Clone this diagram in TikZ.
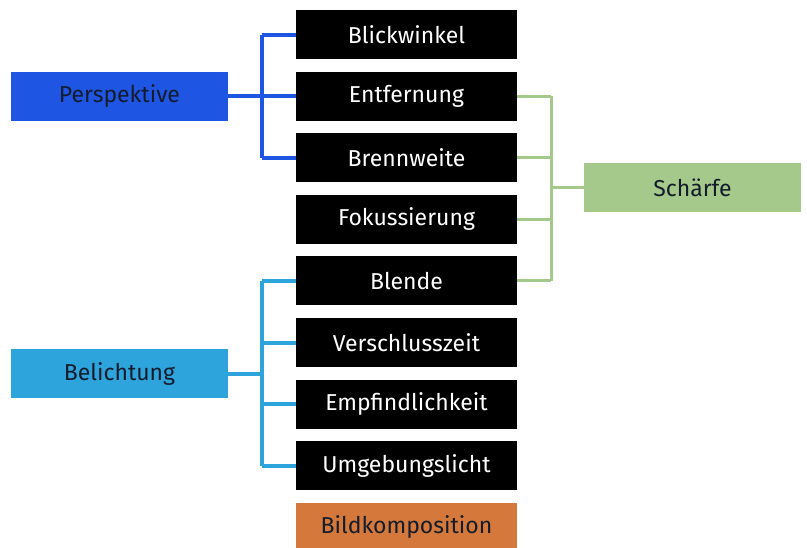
\documentclass[tikz,border=0pt]{standalone}
\usepackage{fontspec}
\setmainfont{Fira Sans}
\usepackage{tikz}

\definecolor{perspblue}{HTML}{1F55E3}
\definecolor{lichtblue}{HTML}{2EA4DC}
\definecolor{schaerfegreen}{HTML}{A5C98B}
\definecolor{kompoorange}{HTML}{D4793B}
\definecolor{darktext}{HTML}{141C2C}

\begin{document}
\begin{tikzpicture}[x=1pt,y=-1pt,
  item/.style={fill=black,text=white,minimum width=221pt,minimum height=49pt,
    inner sep=0pt,font=\fontsize{23}{26}\selectfont},
  topic/.style={minimum width=217pt,minimum height=49pt,inner sep=0pt,
    text=darktext,font=\fontsize{23}{26}\selectfont},
  link/.style={line width=4pt}]
\useasboundingbox (0,0) rectangle (807,547);
\clip (0,0) rectangle (807,547);

% the nine factors
\foreach \name/\txt [count=\i from 0] in {blick/Blickwinkel,entf/Entfernung,
    brenn/Brennweite,fokus/Fokussierung,blende/Blende,zeit/Verschlusszeit,
    iso/Empfindlichkeit,umg/Umgebungslicht}
  \node[item] (\name) at (406.5,34.5+61.6*\i) {\txt};
\node[topic,fill=kompoorange,minimum width=221pt] (kompo) at (406.5,527.3) {Bildkomposition};

% groups
\node[topic,fill=perspblue] (persp) at (119.5,96) {Perspektive};
\node[topic,fill=lichtblue] (licht) at (119.5,373.5) {Belichtung};
\node[topic,fill=schaerfegreen] (schaerfe) at (692.5,187.5) {Schärfe};

\coordinate (pj) at (262,96);
\coordinate (lj) at (262,373.5);
\coordinate (sj) at (551,187.5);

% Perspektive
\draw[link,perspblue] (persp.east) -- (pj);
\draw[link,perspblue] (pj |- blick.west) -- (pj |- brenn.west);
\foreach \n in {blick,entf,brenn}
  \draw[link,perspblue] (pj |- \n.west) -- (\n.west);

% Belichtung
\draw[link,lichtblue] (licht.east) -- (lj);
\draw[link,lichtblue] (lj |- blende.west) -- (lj |- umg.west);
\foreach \n in {blende,zeit,iso,umg}
  \draw[link,lichtblue] (lj |- \n.west) -- (\n.west);

% Schaerfe
\draw[link,schaerfegreen,line width=3pt] (schaerfe.west) -- (sj);
\draw[link,schaerfegreen,line width=3pt] (sj |- entf.east) -- (sj |- blende.east);
\foreach \n in {entf,brenn,fokus,blende}
  \draw[link,schaerfegreen,line width=3pt] (\n.east) -- (sj |- \n.east);
\end{tikzpicture}
\end{document}
